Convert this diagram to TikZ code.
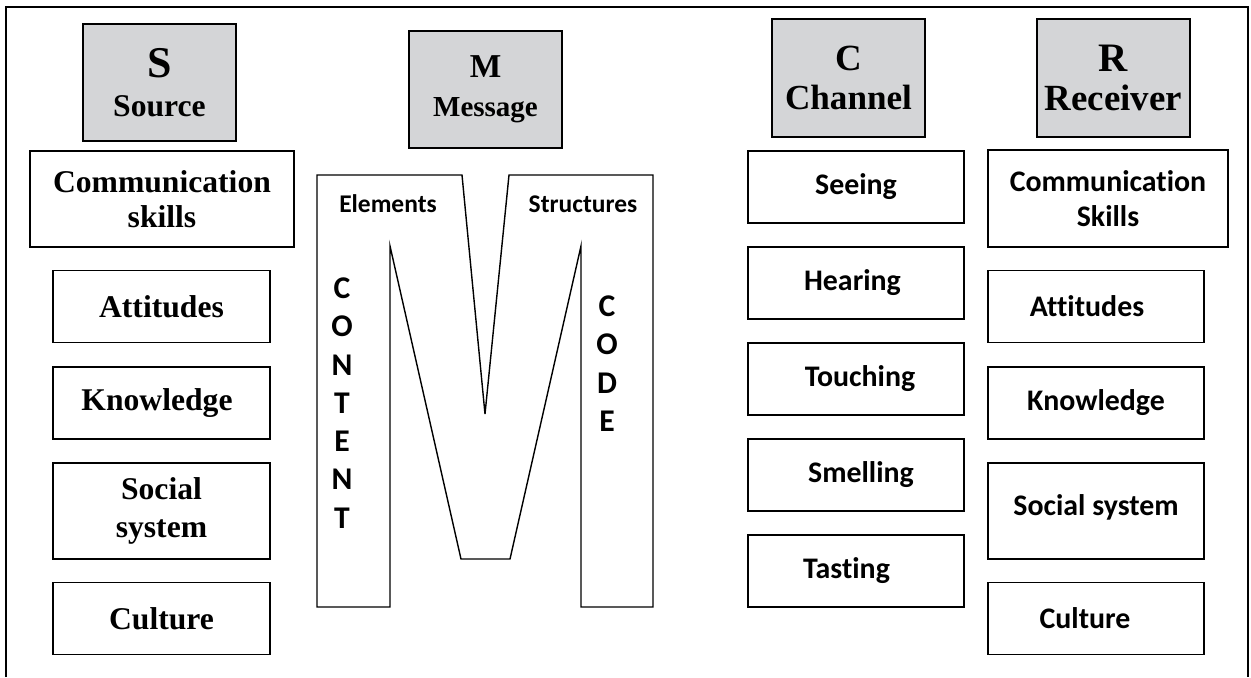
\documentclass[tikz,border=0pt]{standalone}
\usepackage{fontspec}
\setmainfont{Liberation Serif}
\newfontfamily\calib[Ligatures=NoCommon]{Carlito}
\usetikzlibrary{positioning}
\definecolor{hdgray}{RGB}{212,213,215}
% heading text: big letter on top, word below
\newcommand{\hdtxt}[4]{{\fontsize{#1}{#1}\selectfont #2}\\{\fontsize{#3}{#3}\selectfont #4}}
\tikzset{
  box/.style={draw,line width=0.9pt,inner sep=2pt,align=center,minimum height=1.44cm},
  tall/.style={minimum height=1.92cm},
  hd/.style={box,fill=hdgray,minimum width=3.06cm,minimum height=2.35cm,font=\bfseries\fontsize{18}{22}\selectfont},
  src/.style={box,minimum width=4.34cm,font=\bfseries\fontsize{18}{20}\selectfont},
  chn/.style={box,minimum width=4.32cm,font=\calib\bfseries\fontsize{17}{20}\selectfont},
  lbl/.style={align=center,inner sep=0pt,font=\calib\bfseries\fontsize{14.5}{17}\selectfont},
  col/.style={lbl,font=\calib\bfseries\fontsize{18}{21.8}\selectfont},
  every picture/.style={line width=0.8pt},
}

\begin{document}
\begin{tikzpicture}[x=0.02cm,y=-0.02cm]
\useasboundingbox (0,0) rectangle (1251,677);
% frame, open at the bottom
\draw[line width=1pt] (6,677) -- (6,7) -- (1248,7) -- (1248,677);

% S M C R headings
\node[hd] (S) at (159.5,82.5){\hdtxt{25}{S}{18}{Source}};
\node[hd] (M) at (485.5,89.5){\hdtxt{19}{M}{16.5}{Message}};
\node[hd] (C) at (848.5,78){\hdtxt{21}{C}{20}{Channel}};
\node[hd] (R) at (1113.5,78){\hdtxt{23}{R}{21}{Receiver}};

% source
\node[src,tall,minimum width=5.28cm] (s1) at (162,199){Communication\\skills};
\node[src] (s2) at (161.5,306.5){Attitudes}; \node[src] (s3) at (161.5,403){Knowledge\hspace{0.18cm}};
\node[src,tall] (s4) at (161.5,511){Social\\[2pt]system}; \node[src] (s5) at (161.5,618.5){Culture};

% message: the big M
\draw (317,175) -- (462,175) -- (485,414) -- (509,175) -- (653,175) -- (653,607) -- (581,607) -- (581,246)
  -- (510,559) -- (461,559) -- (390,246) -- (390,607) -- (317,607) -- cycle;
\node[lbl] (el) at (388,204){Elements}; \node[lbl] (st) at (583,204){Structures};
\node[col] (cnt) at (342,403){C\\O\\N\\T\\E\\N\\T}; \node[col] (cod) at (607,363.5){C\\O\\D\\E};

% channel
\node[chn] (c1) at (856,187){Seeing}; \node[chn] (c2) at (856,283){Hearing\hspace{0.14cm}};
\node[chn] (c3) at (856,379){\hspace{0.16cm}Touching}; \node[chn] (c4) at (856,475){\hspace{0.2cm}Smelling};
\node[chn] (c5) at (856,571){Tasting\hspace{0.38cm}};

% receiver
\node[chn,minimum width=4.8cm,minimum height=1.94cm] (r1) at (1108,198.5){Communication\\Skills};
\node[chn] (r2) at (1096,306.5){Attitudes\hspace{0.36cm}}; \node[chn] (r3) at (1096,403){Knowledge};
\node[chn,tall] (r4) at (1096,511){\raisebox{0.24cm}{Social system}}; \node[chn] (r5) at (1096,618.5){Culture\hspace{0.44cm}};
\end{tikzpicture}
\end{document}
